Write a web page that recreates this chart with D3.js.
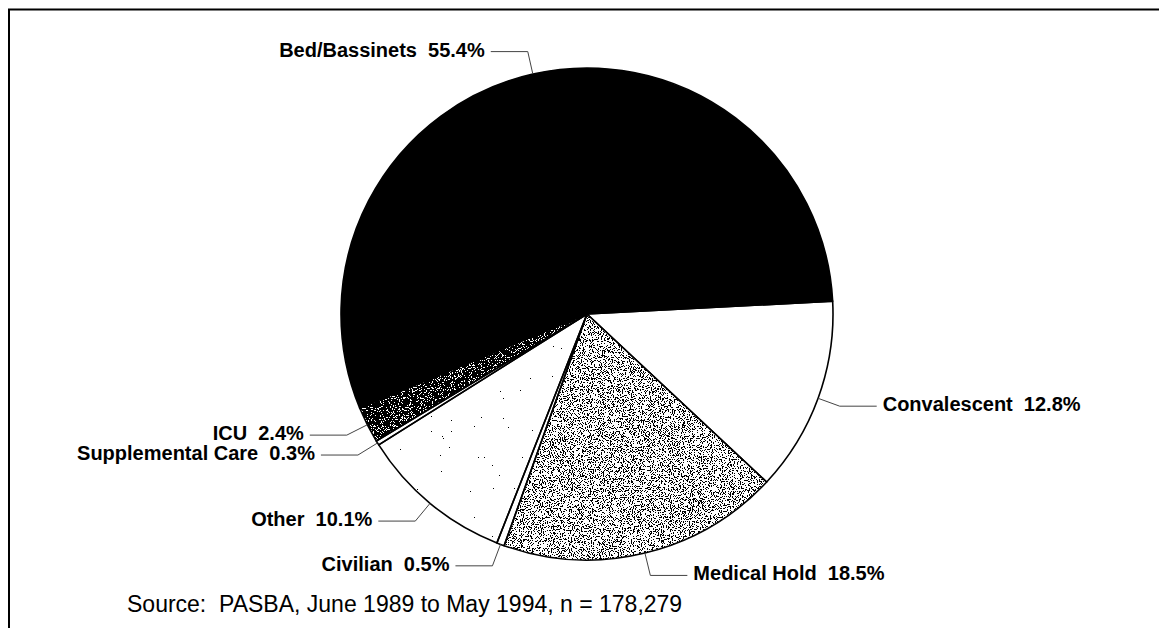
<!DOCTYPE html>
<html>
<head>
<meta charset="utf-8">
<script src="https://cdn.jsdelivr.net/npm/d3@7"></script>
<style>
  html, body { margin: 0; padding: 0; background: #fff; }
  svg { display: block; }
  text { font-family: "Liberation Sans", Arial, Helvetica, sans-serif; fill: #000; white-space: pre; }
</style>
</head>
<body>
<svg id="chart" width="1159" height="628"></svg>
<script>
// Bed occupancy categories, listed clockwise from the Bed/Convalescent boundary
const categories = ["Convalescent", "Medical Hold", "Civilian", "Other", "Supplemental Care", "ICU", "Bed/Bassinets"];
const shares = [12.8, 18.5, 0.5, 10.1, 0.3, 2.4, 55.4];
const sourceNote = "Source:  PASBA, June 1989 to May 1994, n = 178,279";

// Fill treatment per category
const fillStyle = {
  "Convalescent": "white",
  "Medical Hold": "stippleMedium",
  "Civilian": "white",
  "Other": "stippleSparse",
  "Supplemental Care": "white",
  "ICU": "stippleDark",
  "Bed/Bassinets": "black"
};

const W = 1159, H = 628;
const cx = 587, cy = 314, R = 246;
const startDeg = 87;

const svg = d3.select("#chart");
const defs = svg.append("defs");

// Grainy stipple textures built from thresholded noise
function stipple(id, bias, seed) {
  const f = defs.append("filter")
    .attr("id", id)
    .attr("x", 0).attr("y", 0).attr("width", 1).attr("height", 1)
    .attr("color-interpolation-filters", "sRGB");
  f.append("feTurbulence")
    .attr("type", "fractalNoise").attr("baseFrequency", 0.9)
    .attr("numOctaves", 2).attr("seed", seed).attr("result", "noise");
  f.append("feColorMatrix")
    .attr("in", "noise").attr("type", "matrix")
    .attr("values", `0 0 0 0 0  0 0 0 0 0  0 0 0 0 0  -8 0 0 0 ${4.5 + bias}`)
    .attr("result", "raw");
  const ct = f.append("feComponentTransfer").attr("in", "raw").attr("result", "dots");
  ct.append("feFuncA").attr("type", "discrete").attr("tableValues", "0 1");
  f.append("feComposite").attr("in", "dots").attr("in2", "SourceAlpha").attr("operator", "in");
}
stipple("stippleMedium", -0.5, 4);
stipple("stippleDark", 0.8, 7);
stipple("stippleSparse", -2.5, 11);

// Frame lines
svg.append("line").attr("x1", 8).attr("x2", W).attr("y1", 9.5).attr("y2", 9.5)
  .attr("stroke", "#000").attr("stroke-width", 2);
svg.append("line").attr("x1", 9).attr("x2", 9).attr("y1", 9).attr("y2", H)
  .attr("stroke", "#000").attr("stroke-width", 2);

const data = categories.map((c, i) => ({ category: c, value: shares[i] }));
const start = startDeg * Math.PI / 180;
const pie = d3.pie().sort(null).value(d => d.value)
  .startAngle(start).endAngle(start + 2 * Math.PI);
const arcs = pie(data);
const arc = d3.arc().innerRadius(0).outerRadius(R);

const g = svg.append("g").attr("transform", `translate(${cx},${cy})`);

// Base fills
g.selectAll("path.base").data(arcs).join("path")
  .attr("class", "base")
  .attr("d", arc)
  .attr("fill", d => fillStyle[d.data.category] === "black" ? "#000" : "#fff");

// Stippled overlays
g.selectAll("path.tex").data(arcs.filter(d => fillStyle[d.data.category].startsWith("stipple")))
  .join("path")
  .attr("class", "tex")
  .attr("d", arc)
  .attr("fill", "#000")
  .attr("filter", d => `url(#${fillStyle[d.data.category]})`);

// Outlines
g.selectAll("path.edge").data(arcs).join("path")
  .attr("class", "edge")
  .attr("d", arc)
  .attr("fill", "none")
  .attr("stroke", "#000")
  .attr("stroke-width", 1.6)
  .attr("stroke-linejoin", "round");

// Leader lines and labels
const elbowOut = 23, run = 37, gap = 6;
arcs.forEach(d => {
  const mid = (d.startAngle + d.endAngle) / 2;
  const sx = Math.sin(mid), sy = -Math.cos(mid);
  const ax = sx * R, ay = sy * R;
  const ex = sx * (R + elbowOut), ey = sy * (R + elbowOut);
  const dir = ex < 0 ? -1 : 1;
  const hx = ex + dir * run;
  g.append("polyline")
    .attr("points", [[ax, ay], [ex, ey], [hx, ey]].map(p => p.join(",")).join(" "))
    .attr("fill", "none").attr("stroke", "#444").attr("stroke-width", 1);
  g.append("text")
    .attr("x", hx + dir * gap)
    .attr("y", ey + 5)
    .attr("text-anchor", dir < 0 ? "end" : "start")
    .attr("font-size", 20)
    .attr("font-weight", "bold")
    .text(`${d.data.category}  ${d.data.value.toFixed(1)}%`);
});

// Source note
svg.append("text")
  .attr("x", 127).attr("y", 612)
  .attr("font-size", 23)
  .text(sourceNote);
</script>
</body>
</html>
